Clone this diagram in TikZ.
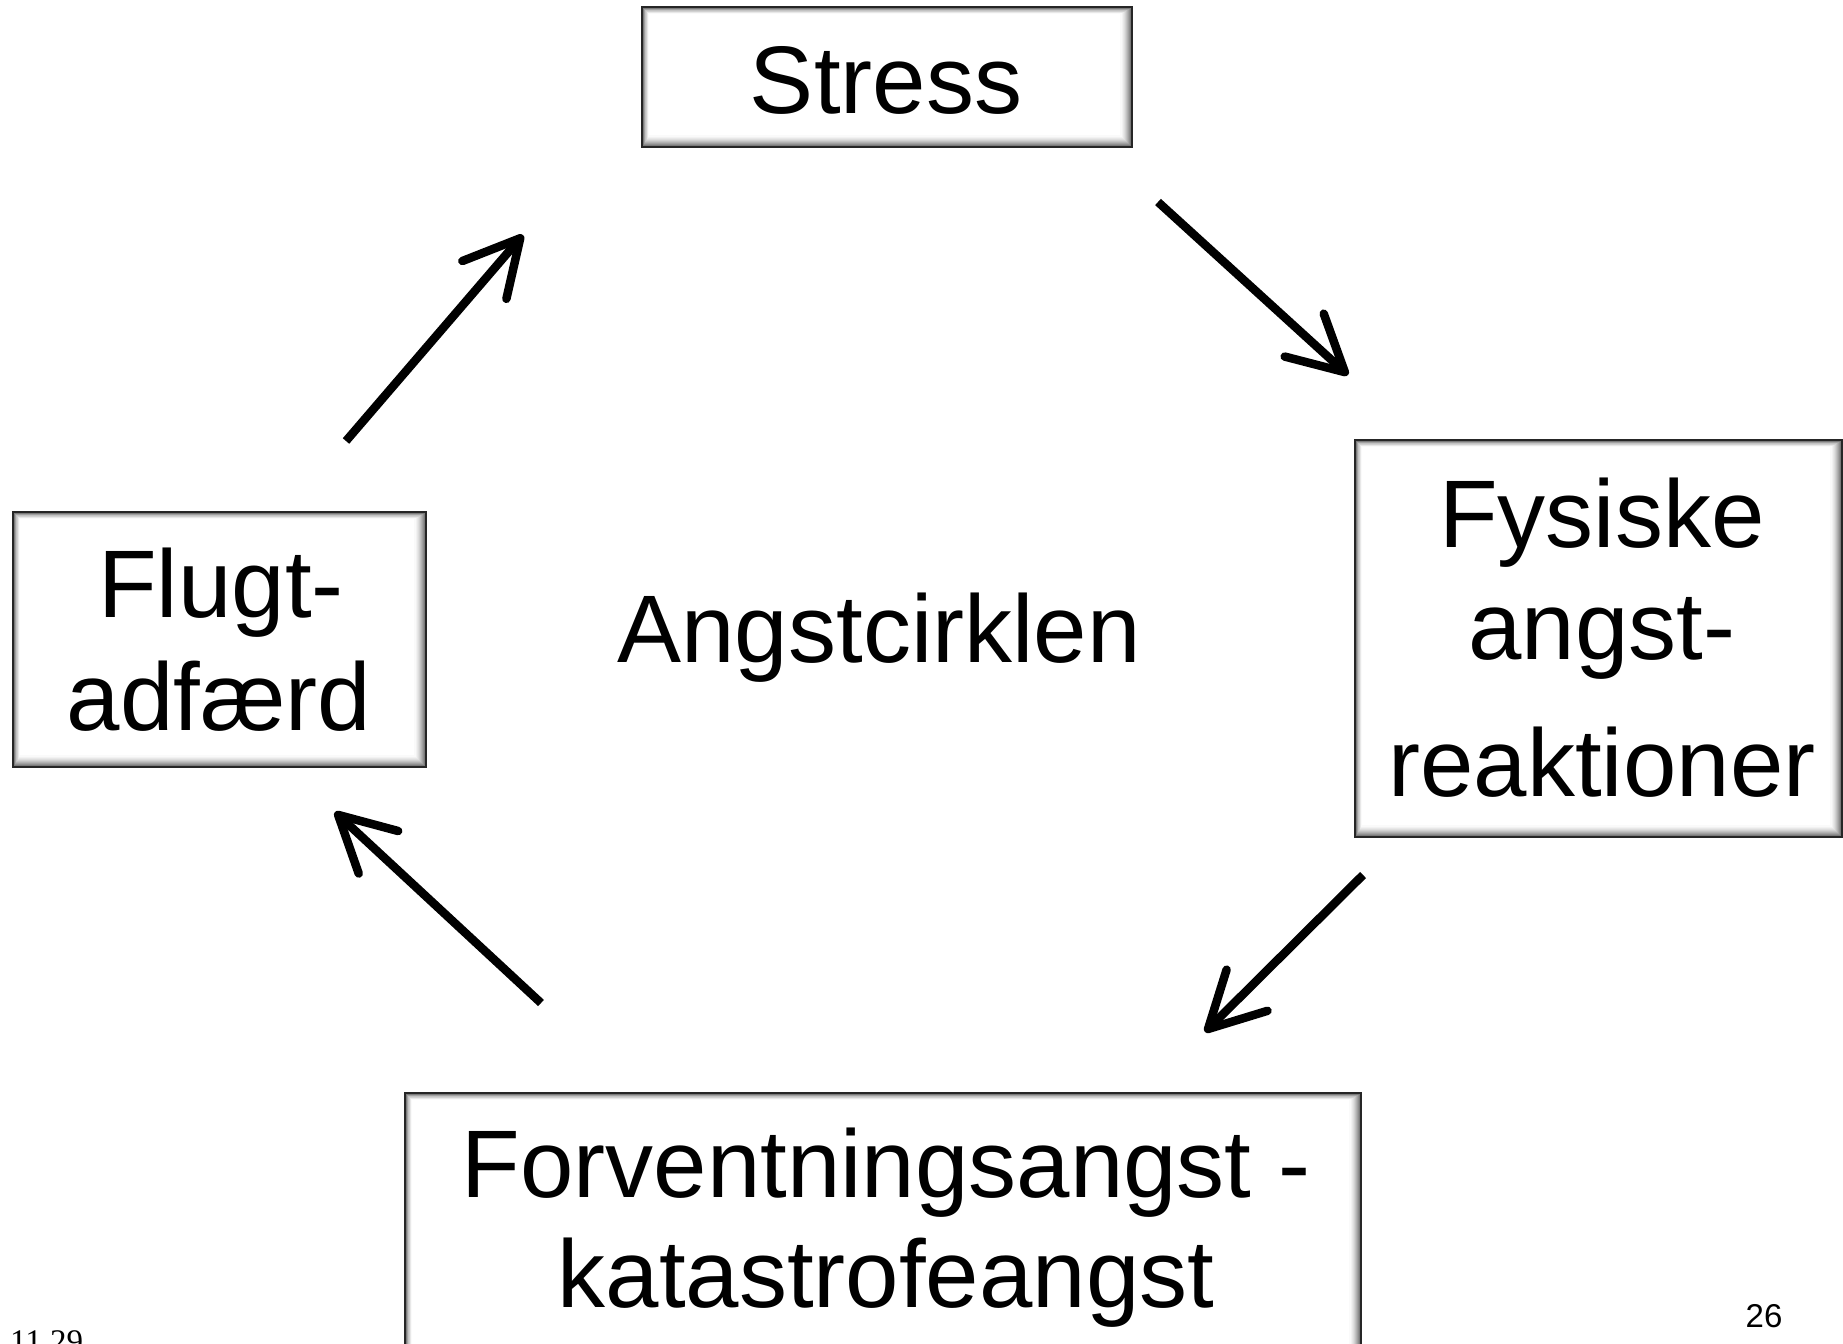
\documentclass[tikz,border=0pt]{standalone}
\usepackage{fontspec}
\setmainfont{Liberation Sans}
\newfontfamily\serifnum{Liberation Serif}
\usetikzlibrary{arrows.meta,calc}

\newcommand\boxtextfont{\fontsize{96}{110}\selectfont}
\newcommand\smallnumfont{\fontsize{33}{38}\selectfont}

\tikzset{
  % white box with a dark frame and a soft grey bevel along its inner edges
  bevelbox/.style={
    draw=black!85, line width=2pt, fill=white, inner sep=0pt,
    path picture={
      \foreach \i/\g in {0/52,1/44,2/37,3/30,4/24,5/18,6/13,7/9,8/5,9/2}{
        \fill[black!\g!white]
          ($(path picture bounding box.north west)+(0.6*\i+1,0.6*\i+1)$)
          rectangle
          ($(path picture bounding box.south east)+(-1.05*\i-1,-1.05*\i-1)$);
      }
      \fill[white]
        ($(path picture bounding box.north west)+(7,7)$)
        rectangle
        ($(path picture bounding box.south east)+(-12,-12)$);
    }
  },
  lbl/.style={font=\boxtextfont, inner sep=0pt, anchor=base},
  cyclearrow/.style={
    line width=8.5pt, black,
    -{Straight Barb[length=55pt, width=58pt, round]}
  }
}

\begin{document}
\begin{tikzpicture}[x=1pt,y=-1pt]
  \useasboundingbox[fill=white] (0,0) rectangle (1843,1343);

  % the four stages of the cycle
  \node[bevelbox, minimum width=490pt, minimum height=140pt] (stress) at (887,77) {};
  \node[bevelbox, minimum width=487pt, minimum height=397pt] (fysiske) at (1598.5,638.5) {};
  \node[bevelbox, minimum width=956pt, minimum height=270pt] (forvent) at (883,1228) {};
  \node[bevelbox, minimum width=413pt, minimum height=255pt] (flugt) at (219.5,639.5) {};

  % box texts
  \node[lbl] (stressT) at (886,114) {Stress};
  \node[lbl] (fysT1) at (1602,547) {Fysiske};
  \node[lbl] (fysT2) at (1602,659) {angst-};
  \node[lbl] (fysT3) at (1602,796) {reaktioner};
  \node[lbl] (forT1) at (886,1197) {Forventningsangst -};
  \node[lbl] (forT2) at (886,1307) {katastrofeangst};
  \node[lbl] (flugtT1) at (221,617) {Flugt-};
  \node[lbl] (flugtT2) at (219,730) {adfærd};

  % title in the middle of the cycle
  \node[lbl] (title) at (879,662) {Angstcirklen};

  % footer: date and page number
  \node[font=\serifnum\smallnumfont, inner sep=0pt, anchor=base west] (date) at (10,1352) {11.29};
  \node[font=\smallnumfont, inner sep=0pt, anchor=base] (page) at (1764,1327) {26};

  % arrow end points between the boxes
  \coordinate (a1s) at (1158,202);  \coordinate (a1e) at (1348,375);
  \coordinate (a2s) at (1363,875);  \coordinate (a2e) at (1205,1032);
  \coordinate (a3s) at (541,1003);  \coordinate (a3e) at (335,812);
  \coordinate (a4s) at (346,441);   \coordinate (a4e) at (523,235);

  \draw[cyclearrow] (a1s) -- (a1e);
  \draw[cyclearrow] (a2s) -- (a2e);
  \draw[cyclearrow] (a3s) -- (a3e);
  \draw[cyclearrow] (a4s) -- (a4e);
\end{tikzpicture}
\end{document}
